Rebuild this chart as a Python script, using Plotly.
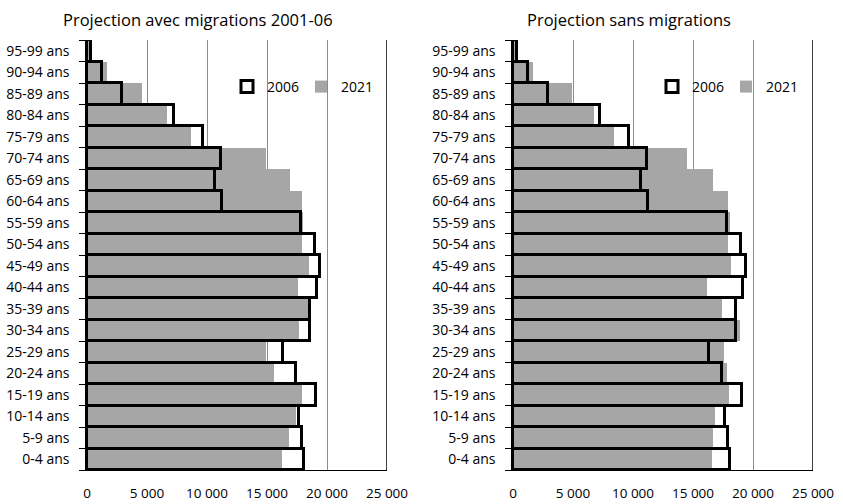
import plotly.graph_objects as go

ages = ["0-4 ans", "5-9 ans", "10-14 ans", "15-19 ans", "20-24 ans", "25-29 ans",
        "30-34 ans", "35-39 ans", "40-44 ans", "45-49 ans", "50-54 ans", "55-59 ans",
        "60-64 ans", "65-69 ans", "70-74 ans", "75-79 ans", "80-84 ans", "85-89 ans",
        "90-94 ans", "95-99 ans"]

pop_2006 = [18050, 17900, 17700, 19100, 17450, 16300, 18550, 18550, 19200, 19450,
            19000, 17800, 11250, 10700, 11200, 9700, 7250, 2950, 1250, 300]

avec_2021 = [16250, 16800, 17400, 17950, 15600, 14950, 17700, 18500, 17600, 18500,
             17950, 18000, 17950, 16950, 14950, 8650, 6650, 4600, 1650, 350]

sans_2021 = [16600, 16650, 16800, 18000, 17850, 17550, 18950, 17400, 16200, 18150,
             17900, 18100, 17900, 16700, 14500, 8450, 6750, 4900, 1700, 350]

titles = ["Projection avec migrations 2001-06", "Projection sans migrations"]
x_ticks = [0, 5000, 10000, 15000, 20000, 25000]

FONT = "Open Sans"
GREY = "#a6a6a6"

fig = go.Figure()

panels = [(avec_2021, "x", "y", "legend"), (sans_2021, "x2", "y2", "legend2")]
for vals_2021, xa, ya, leg in panels:
    fig.add_trace(go.Bar(x=vals_2021, y=ages, orientation="h", name="2021",
                         marker=dict(color=GREY, line=dict(width=0)),
                         xaxis=xa, yaxis=ya, legend=leg, legendrank=2))
    fig.add_trace(go.Bar(x=pop_2006, y=ages, orientation="h", name="2006",
                         marker=dict(color="rgba(0,0,0,0)", line=dict(color="black", width=3)),
                         xaxis=xa, yaxis=ya, legend=leg, legendrank=1))

xdoms = [[87 / 843, 387 / 843], [513 / 843, 813 / 843]]
ydom = [1 - 470 / 504, 1 - 40 / 504]

axis_common = dict(showgrid=True, gridcolor="#8c8c8c", gridwidth=1,
                   range=[0, 25000], tickvals=x_ticks, tickformat=",d",
                   showline=True, linecolor="black", linewidth=1,
                   ticks="", ticklabelstandoff=11, zeroline=False,
                   tickfont=dict(size=13.5, color="black"), automargin=False, fixedrange=True)
yaxis_common = dict(showline=True, linecolor="black", linewidth=1.5,
                    ticks="outside", tickson="boundaries", ticklen=6, tickcolor="black",
                    ticklabelstandoff=13,
                    tickfont=dict(size=14, color="black"), automargin=False, fixedrange=True)

legend_common = dict(orientation="h", yanchor="middle", xanchor="left",
                     bgcolor="rgba(0,0,0,0)", font=dict(size=14), itemwidth=30,
                     entrywidth=29, traceorder="normal")

fig.update_layout(
    width=843, height=504,
    margin=dict(l=0, r=0, t=0, b=0, autoexpand=False),
    paper_bgcolor="white", plot_bgcolor="white",
    font=dict(family=FONT, color="black"),
    separators=", ",
    barmode="overlay", bargap=0,
    xaxis=dict(domain=xdoms[0], anchor="y", **axis_common),
    yaxis=dict(domain=ydom, anchor="x", **yaxis_common),
    xaxis2=dict(domain=xdoms[1], anchor="y2", **axis_common),
    yaxis2=dict(domain=ydom, anchor="x2", **yaxis_common),
    legend=dict(x=227 / 843, y=1 - 87 / 504, **legend_common),
    legend2=dict(x=652 / 843, y=1 - 87 / 504, **legend_common),
)

# right border of each plot area (darker than the gridlines)
for xa, ya in [("x", "y"), ("x2", "y2")]:
    fig.add_shape(type="line", xref=xa, yref=ya + " domain", x0=25000, x1=25000, y0=0, y1=1,
                  line=dict(color="black", width=1.5))

centers = [198 / 843, 629 / 843]
for t, cx in zip(titles, centers):
    fig.add_annotation(text=t, x=cx, y=1 - 20 / 504, xref="paper", yref="paper",
                       xanchor="center", yanchor="middle",
                       showarrow=False, font=dict(size=16.5, color="black"))

fig.write_html("out.html", config={"displayModeBar": False},
               post_script="document.body.style.margin='0';")
